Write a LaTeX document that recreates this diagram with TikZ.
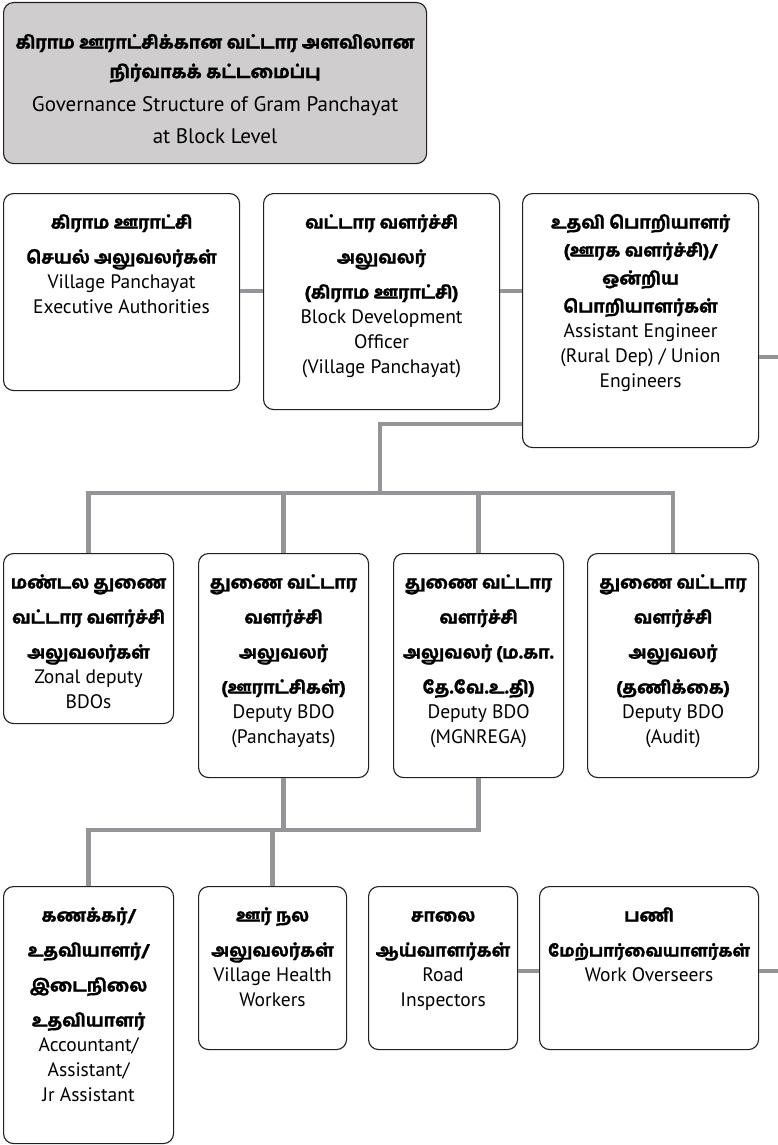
\documentclass[tikz,border=0pt]{standalone}
\usepackage{fontspec}
\usepackage{tikz}
\IfFontExistsTF{Hind Madurai Bold}
  {\newfontfamily\tafont[Script=Tamil,FakeBold=1.2]{Hind Madurai Bold}}
  {\newfontfamily\tafont[Script=Tamil,FakeBold=4]{Hind Madurai}}
\newfontfamily\enfont{PT Sans}
\definecolor{linkgray}{HTML}{939598}
\definecolor{titlegray}{HTML}{CFCDCD}
\definecolor{boxline}{HTML}{231F20}
% #1 tamil line skip, #2 width, #3 height, #4 tamil lines, #5 english lines
\newcommand{\cell}[5][35]{%
  \parbox[t][#3pt][t]{#2pt}{\centering\lineskiplimit=-20pt
    \fontsize{17.6}{#1}\tafont\rule{0pt}{35pt}#4\par
    \fontsize{19.5}{25}\enfont #5\par}}

\begin{document}
\begin{tikzpicture}[x=1pt,y=-1pt,
  box/.style={draw=boxline,line width=1.1pt,rounded corners=10pt,fill=white,inner sep=0pt,anchor=north west},
  titlebox/.style={box,fill=titlegray},
  link/.style={draw=linkgray,line width=4.5pt}]
\useasboundingbox (0,0) rectangle (778,1145);
% heading
\node[titlebox] (head) at (3,2) {\parbox[t][161pt][t]{423pt}{\centering\lineskiplimit=-20pt
  \fontsize{17.8}{29.5}\tafont\rule{0pt}{46pt}கிராம ஊராட்சிக்கான வட்டார அளவிலான\\நிர்வாகக் கட்டமைப்பு\par\vskip1pt
  \fontsize{21}{32}\enfont Governance Structure of Gram Panchayat\\at Block Level\par}};
% first row
\node[box] (vpea) at (3,193) {\cell{236}{197}{கிராம ஊராட்சி\\செயல் அலுவலர்கள்}{Village Panchayat\\Executive Authorities}};
\node[box] (bdo) at (263,193) {\cell{236}{216}{வட்டார வளர்ச்சி\\அலுவலர்\\(கிராம ஊராட்சி)}{Block Development\\Officer\\(Village Panchayat)}};
\node[box] (ae) at (522,193) {\cell[28]{236}{254}{உதவி பொறியாளர்\\(ஊரக வளர்ச்சி)/\\ஒன்றிய\\பொறியாளர்கள்}{Assistant Engineer\\(Rural Dep) / Union\\Engineers}};
% second row
\node[box] (zbdo) at (3,553) {\cell{170}{170}{மண்டல துணை\\வட்டார வளர்ச்சி\\அலுவலர்கள்}{Zonal deputy\\BDOs}};
\node[box] (dbdop) at (198,553) {\cell{170}{224}{துணை வட்டார\\வளர்ச்சி\\அலுவலர்\\(ஊராட்சிகள்)}{Deputy BDO\\(Panchayats)}};
\node[box] (dbdon) at (393,553) {\cell{170}{224}{துணை வட்டார\\வளர்ச்சி\\அலுவலர் (ம.கா.\\தே.வே.உ.தி)}{Deputy BDO\\(MGNREGA)}};
\node[box] (dbdoa) at (587,553) {\cell{171}{224}{துணை வட்டார\\வளர்ச்சி\\அலுவலர்\\(தணிக்கை)}{Deputy BDO\\(Audit)}};
% third row
\node[box] (acct) at (3,886) {\cell{170}{257}{கணக்கர்/\\உதவியாளர்/\\இடைநிலை\\உதவியாளர்}{Accountant/\\Assistant/\\Jr Assistant}};
\node[box] (vhw) at (198,886) {\cell{148}{163}{ஊர் நல\\அலுவலர்கள்}{Village Health\\Workers}};
\node[box] (roadi) at (368,886) {\cell{149}{163}{சாலை\\ஆய்வாளர்கள்}{Road\\Inspectors}};
\node[box] (works) at (539,886) {\cell{219}{163}{பணி\\{\fontsize{16.5}{35}\selectfont மேற்பார்வையாளர்கள்}}{Work Overseers}};
% links
\coordinate (row1) at (0,291);
\draw[link] (vpea.east |- row1) -- (bdo.west |- row1);
\draw[link] (bdo.east |- row1) -- (ae.west |- row1);
\coordinate (edge1) at (778,357);
\draw[link] (ae.east |- edge1) -- (edge1);
\coordinate (trunk) at (380,424);
\coordinate (bus1) at (380,493);
\draw[link] (ae.west |- trunk) -- (trunk) -- (bus1);
\draw[link] (zbdo.north) -- (zbdo.north |- bus1) -- (dbdoa.north |- bus1) -- (dbdoa.north);
\draw[link] (dbdop.north) -- (dbdop.north |- bus1);
\draw[link] (dbdon.north) -- (dbdon.north |- bus1);
\coordinate (bus2) at (0,830);
\draw[link] (dbdop.south) -- (dbdop.south |- bus2);
\draw[link] (dbdon.south) -- (dbdon.south |- bus2) -- (acct.north |- bus2) -- (acct.north);
\draw[link] (vhw.north) -- (vhw.north |- bus2);
\coordinate (row3) at (0,971);
\draw[link] (roadi.east |- row3) -- (works.west |- row3);
\coordinate (edge2) at (778,971);
\draw[link] (works.east |- edge2) -- (edge2);
\end{tikzpicture}
\end{document}
